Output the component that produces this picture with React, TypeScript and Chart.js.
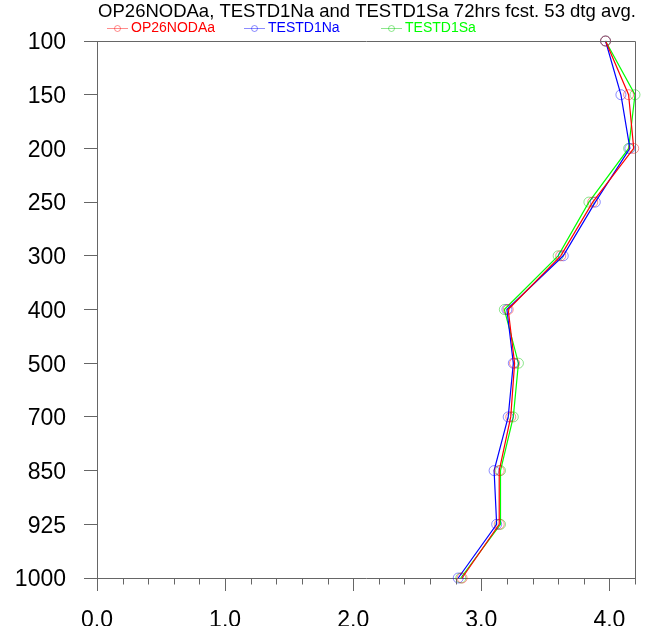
import React, { useEffect, useRef } from "react";
import { Chart, registerables } from "chart.js";

Chart.register(...registerables);

const levels = ["100", "150", "200", "250", "300", "400", "500", "700", "850", "925", "1000"];
const op26NODAa = [3.97, 4.15, 4.19, 3.87, 3.62, 3.21, 3.26, 3.23, 3.14, 3.14, 2.85];
const testD1Na = [3.97, 4.09, 4.16, 3.89, 3.64, 3.2, 3.25, 3.21, 3.1, 3.12, 2.82];
const testD1Sa = [3.97, 4.2, 4.15, 3.84, 3.6, 3.18, 3.29, 3.25, 3.15, 3.15, 2.84];
const seriesNames = ["OP26NODAa", "TESTD1Na", "TESTD1Sa"];
const seriesColors = ["#ff0000", "#0000ff", "#00ff00"];
const seriesLight = ["rgba(255,0,0,0.45)", "rgba(0,0,255,0.45)", "rgba(0,200,0,0.45)"];
const titleText = "OP26NODAa, TESTD1Na and TESTD1Sa 72hrs fcst. 53 dtg avg.";
const xMajorTicks = [0, 1, 2, 3, 4];

const FONT = '"Liberation Sans", Arial, Helvetica, sans-serif';
const AXIS_COLOR = "#666666";

const decorPlugin = {
  id: "decor",
  afterDraw(chart: any) {
    const ctx = chart.ctx;
    const a = chart.chartArea;
    const xs = chart.scales.x;
    ctx.save();
    // frame top/right
    ctx.strokeStyle = AXIS_COLOR;
    ctx.lineWidth = 1;
    ctx.beginPath();
    ctx.moveTo(Math.round(a.left) + 0.5, Math.round(a.top) + 0.5);
    ctx.lineTo(Math.round(a.right) + 0.5, Math.round(a.top) + 0.5);
    ctx.lineTo(Math.round(a.right) + 0.5, Math.round(a.bottom) + 0.5);
    ctx.stroke();
    // minor ticks on x axis
    ctx.beginPath();
    for (let i = 1; i <= 21; i++) {
      const v = i * 0.2;
      if (Math.abs(v - Math.round(v)) < 1e-6) continue;
      const px = Math.round(xs.getPixelForValue(v)) + 0.5;
      ctx.moveTo(px, Math.round(a.bottom) + 0.5);
      ctx.lineTo(px, Math.round(a.bottom) + 6.5);
    }
    ctx.stroke();
    // title
    ctx.fillStyle = "#000";
    ctx.font = `18.5px ${FONT}`;
    ctx.textAlign = "center";
    ctx.textBaseline = "middle";
    ctx.fillText(titleText, (a.left + a.right) / 2 + 1, 12);
    // legend
    ctx.font = `14px ${FONT}`;
    ctx.textAlign = "left";
    for (let i = 0; i < seriesNames.length; i++) {
      const x0 = 107 + i * 137;
      const y = 28.5;
      ctx.strokeStyle = seriesLight[i];
      ctx.beginPath();
      ctx.moveTo(x0, y);
      ctx.lineTo(x0 + 21, y);
      ctx.stroke();
      ctx.beginPath();
      ctx.arc(x0 + 10.5, y, 3, 0, Math.PI * 2);
      ctx.stroke();
      ctx.fillStyle = seriesColors[i];
      ctx.fillText(seriesNames[i], x0 + 24, y);
    }
    ctx.restore();
  },
};

export default function App() {
  const ref = useRef<HTMLCanvasElement | null>(null);
  useEffect(() => {
    if (!ref.current) return;
    const data = [op26NODAa, testD1Na, testD1Sa];
    const chart = new Chart(ref.current, {
      type: "line",
      data: {
        labels: levels,
        datasets: data.map((d, i) => ({
          label: seriesNames[i],
          data: d,
          borderColor: seriesColors[i],
          borderWidth: 1.2,
          pointRadius: 5,
          pointBorderWidth: 1,
          pointBorderColor: seriesLight[i],
          pointBackgroundColor: "rgba(0,0,0,0)",
          pointHoverRadius: 5,
          tension: 0,
          fill: false,
          clip: false,
        })) as any,
      },
      options: {
        indexAxis: "y",
        animation: false,
        responsive: false,
        events: [],
        layout: { padding: { left: 0, right: 19, top: 41, bottom: 0 } },
        plugins: {
          legend: { display: false },
          title: { display: false },
          tooltip: { enabled: false },
        },
        scales: {
          x: {
            type: "linear",
            min: 0,
            max: 4.2,
            afterFit: (s: any) => {
              s.height = 48;
            },
            afterBuildTicks: (s: any) => {
              s.ticks = xMajorTicks.map((v) => ({ value: v }));
            },
            ticks: {
              font: { family: FONT, size: 23 },
              color: "#000",
              padding: 16,
              maxRotation: 0,
              autoSkip: false,
              callback: (v: any) => Number(v).toFixed(1),
            },
            grid: {
              drawOnChartArea: false,
              drawTicks: true,
              tickLength: 13,
              color: AXIS_COLOR,
            },
            border: { display: true, color: AXIS_COLOR, width: 1 },
          },
          y: {
            type: "category",
            offset: false,
            afterFit: (s: any) => {
              s.width = 97;
            },
            ticks: {
              font: { family: FONT, size: 23 },
              color: "#000",
              padding: 18,
              labelOffset: 2,
              autoSkip: false,
            },
            grid: {
              drawOnChartArea: false,
              drawTicks: true,
              tickLength: 13,
              color: AXIS_COLOR,
            },
            border: { display: true, color: AXIS_COLOR, width: 1 },
          },
        },
      } as any,
      plugins: [decorPlugin],
    });
    return () => chart.destroy();
  }, []);
  return (
    <div style={{ position: "fixed", left: 0, top: 0, width: 654, height: 626, background: "#fff" }}>
      <canvas ref={ref} width={654} height={626} style={{ display: "block" }} />
    </div>
  );
}
